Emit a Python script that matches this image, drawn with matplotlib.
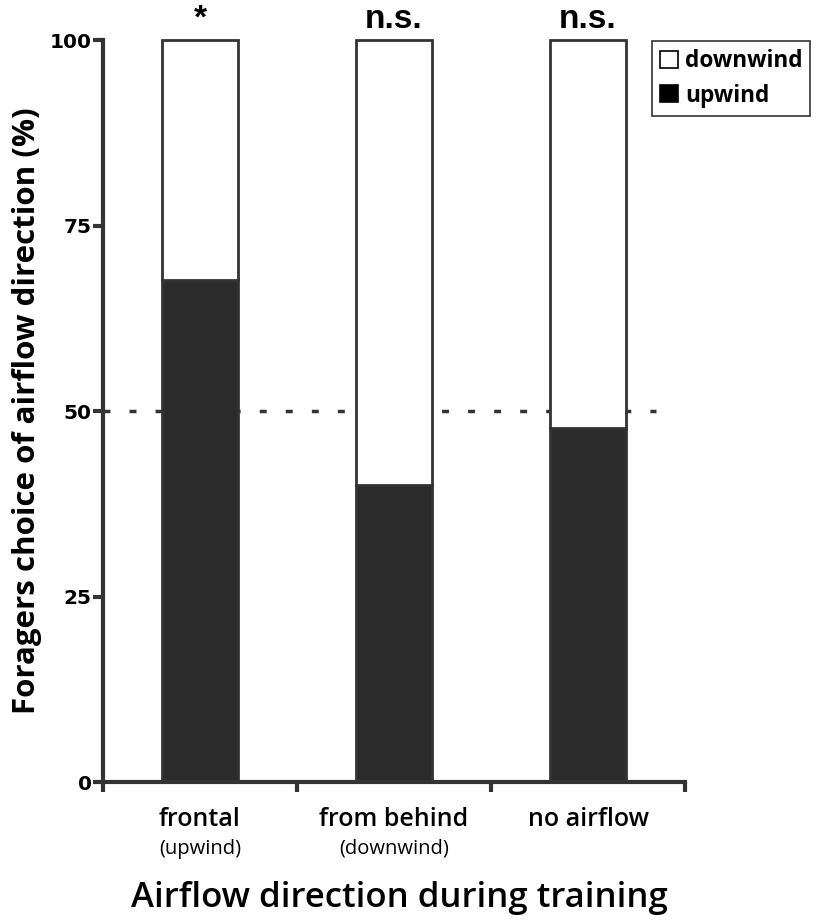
import numpy as np
import matplotlib.pyplot as plt
from matplotlib.patches import Patch

# Data
categories = ['frontal', 'from behind', 'no airflow']
sublabels = ['(upwind)', '(downwind)', '']
upwind = [67.6, 40.0, 47.7]
downwind = [100 - v for v in upwind]
significance = ['*', 'n.s.', 'n.s.']
yticks = [0, 25, 50, 75, 100]

dark = '#2b2b2b'
edge = '#333333'

fig = plt.figure(figsize=(8.16, 9.22), dpi=100)
ax = fig.add_axes([0.1262, 0.1518, 0.7133, 0.8048])

x = np.arange(len(categories))
ax.bar(x, upwind, width=0.39, color=dark, edgecolor=edge, linewidth=2, clip_on=False, zorder=2)
ax.bar(x, downwind, width=0.39, bottom=upwind, color='white', edgecolor=edge, linewidth=2,
       clip_on=False, zorder=2)

# chance level
ax.plot([-0.5, 2.35], [50, 50], color=edge, linewidth=2.5, linestyle=(0, (2, 5.5)), zorder=1)

ax.set_xlim(-0.5, 2.5)
ax.set_ylim(0, 100)
ax.set_yticks(yticks)
ax.set_yticklabels([str(t) for t in yticks], fontsize=14.5, fontweight='bold', family='DejaVu Sans')
ax.set_xticks([-0.5, 0.5, 1.5, 2.5])
ax.set_xticklabels([])
ax.tick_params(axis='both', length=7, width=3, color=edge, direction='out')
ax.tick_params(axis='y', pad=1)

for side in ['top', 'right']:
    ax.spines[side].set_visible(False)
for side in ['left', 'bottom']:
    ax.spines[side].set_linewidth(3)
    ax.spines[side].set_color(edge)

# category labels under the axis
for i, (cat, sub) in enumerate(zip(categories, sublabels)):
    ax.annotate(cat, xy=(i, 0), xycoords=('data', 'axes fraction'), xytext=(0, -27),
                textcoords='offset points', ha='center', va='center',
                fontsize=18, family='Open Sans', fontweight='semibold')
    if sub:
        ax.annotate(sub, xy=(i, 0), xycoords=('data', 'axes fraction'), xytext=(0, -48),
                    textcoords='offset points', ha='center', va='center',
                    fontsize=14.5, family='Open Sans')

# significance marks
for i, s in enumerate(significance):
    ax.annotate(s, xy=(i, 100), xytext=(0, 15), textcoords='offset points',
                ha='center', va='center', fontsize=24, fontweight='bold',
                family='Liberation Sans', annotation_clip=False)

ax.set_ylabel('Foragers choice of airflow direction (%)', fontsize=22.5, fontweight='bold',
              family='Open Sans', labelpad=6)
fig.text(0.49, 0.026, 'Airflow direction during training', ha='center', va='center',
         fontsize=25, family='Open Sans', fontweight='semibold')

handles = [Patch(facecolor='white', edgecolor='black', linewidth=1.2),
           Patch(facecolor='black', edgecolor='black', linewidth=1.2)]
leg = fig.legend(handles, ['downwind', 'upwind'], loc='upper left',
                 bbox_to_anchor=(0.799, 0.955), frameon=True, fancybox=False,
                 handlelength=0.8, handleheight=0.8, handletextpad=0.3,
                 labelspacing=0.45, borderpad=0.35, borderaxespad=0,
                 prop={'family': 'Open Sans', 'weight': 'bold', 'size': 16.3})
leg.get_frame().set_edgecolor('black')
leg.get_frame().set_linewidth(1.2)

fig.savefig('out.png', dpi=100)
